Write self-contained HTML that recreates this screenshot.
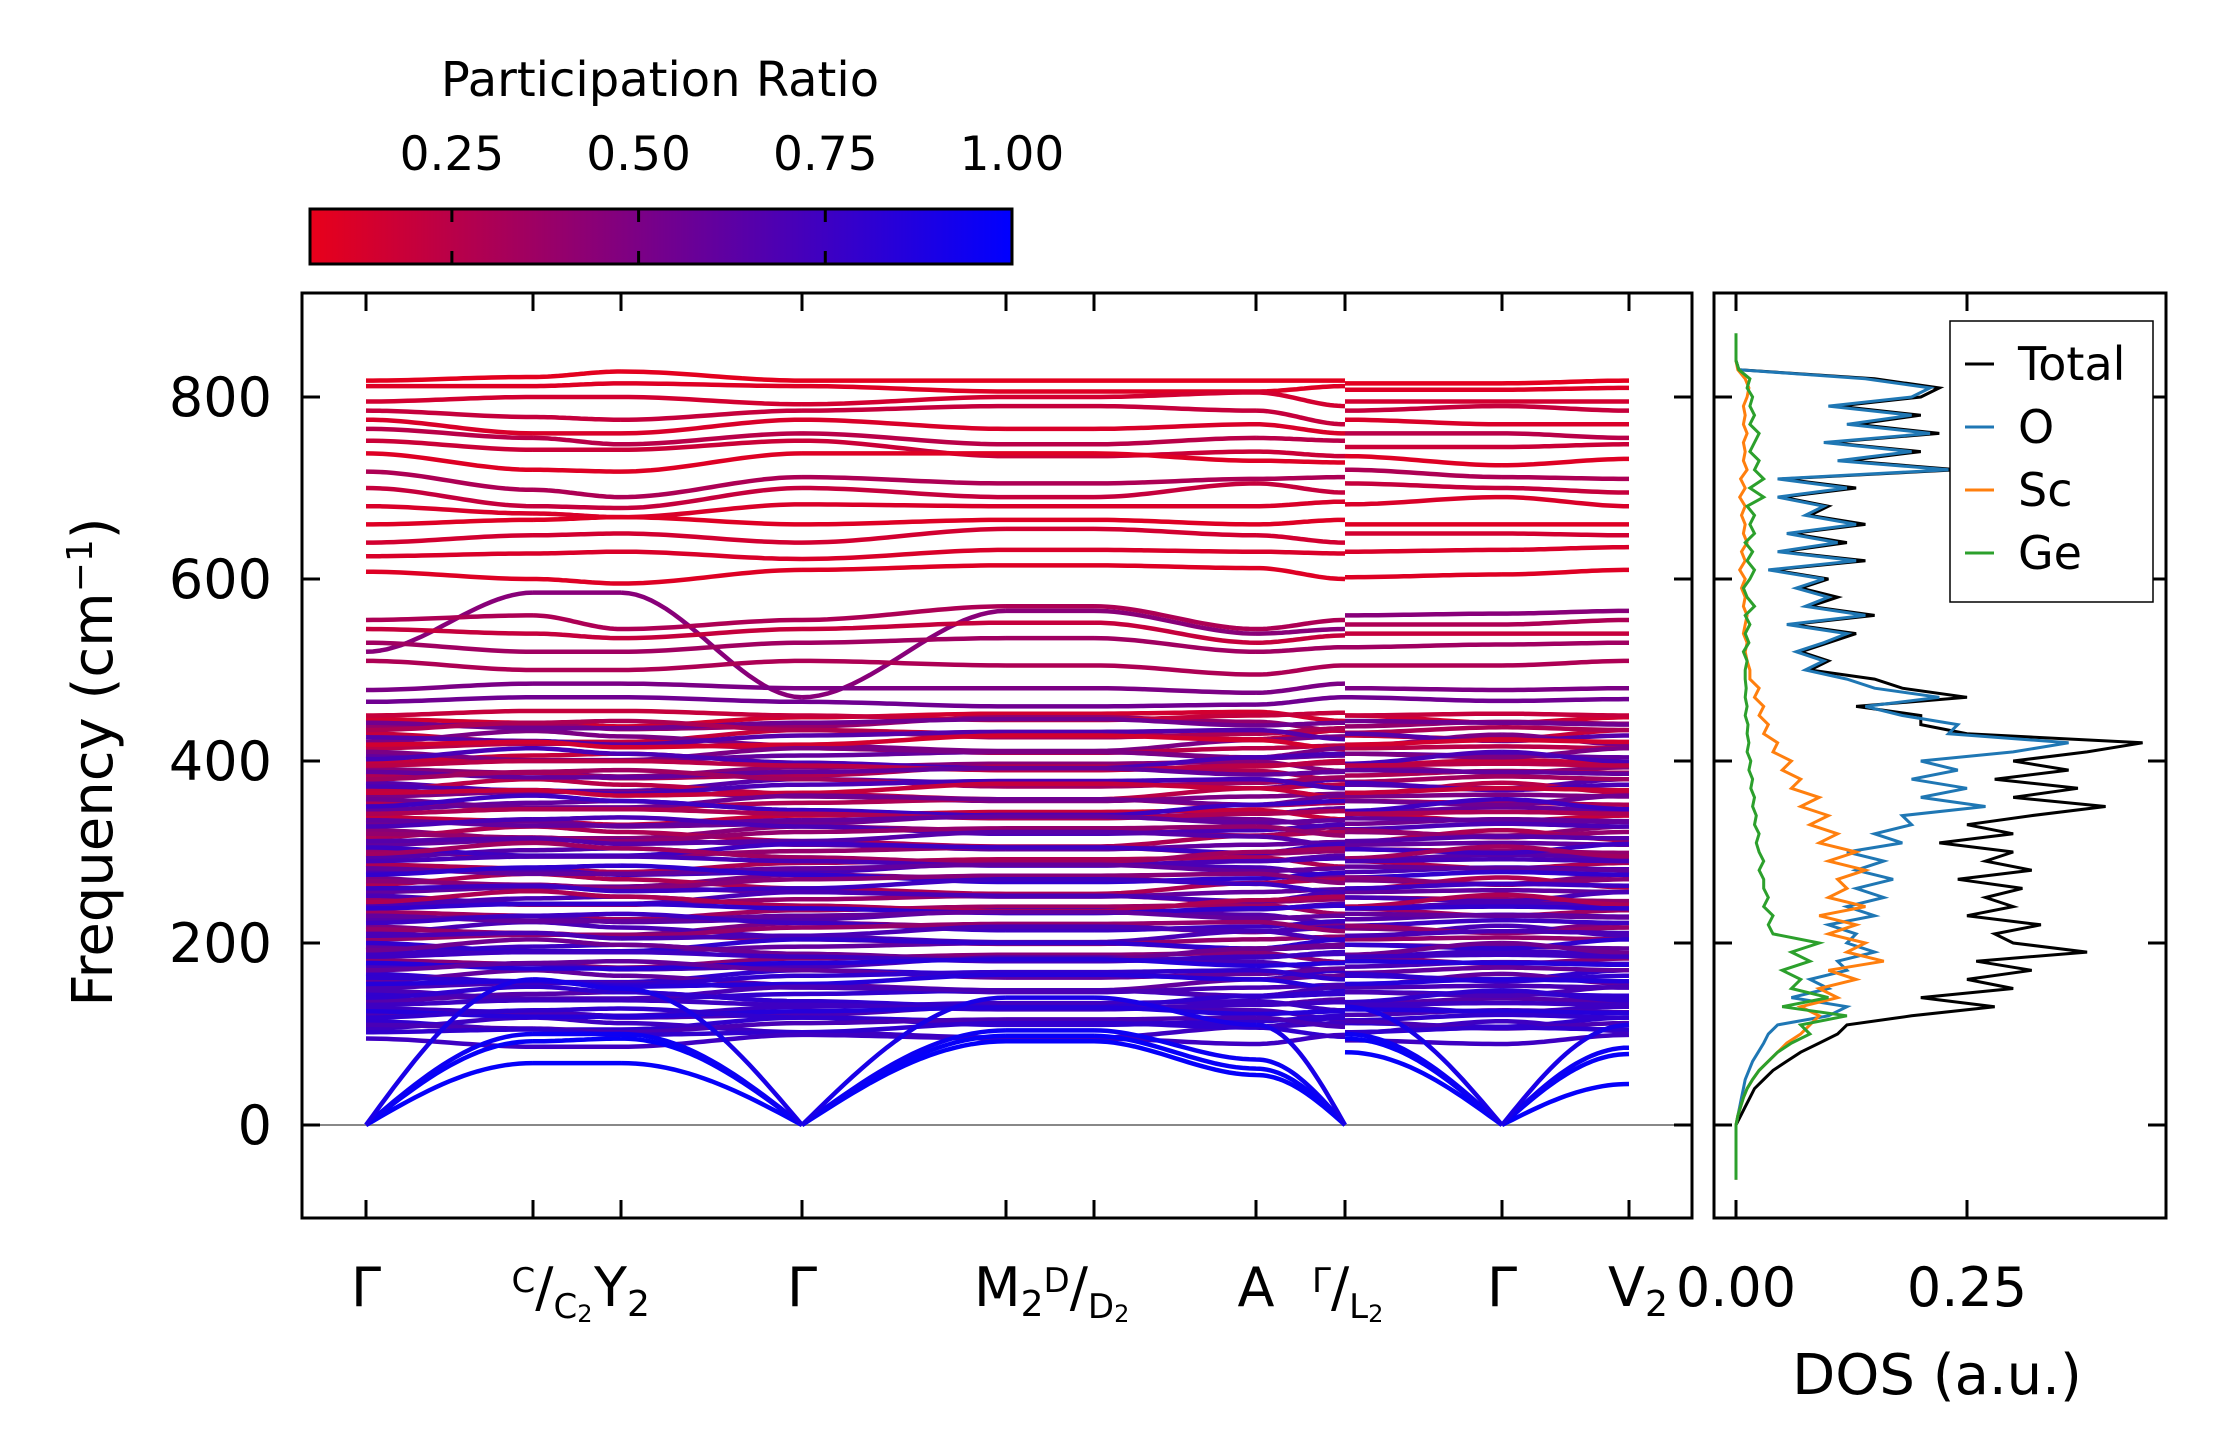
<!DOCTYPE html>
<html><head><meta charset="utf-8">
<style>
body{margin:0;background:#fff;}
svg{display:block;font-family:"DejaVu Sans","Liberation Sans",sans-serif;}
</style></head>
<body>
<svg id="fig" width="2222" height="1455" viewBox="0 0 2222 1455" xmlns="http://www.w3.org/2000/svg">
<defs>
<linearGradient id="cmap" x1="0" x2="1" y1="0" y2="0">
<stop offset="0" stop-color="rgb(232,0,26)"/>
<stop offset="1" stop-color="rgb(0,0,255)"/>
</linearGradient>
<clipPath id="clipMain"><rect x="302" y="293" width="1390" height="925"/></clipPath>
<clipPath id="clipDos"><rect x="1714" y="293" width="452" height="925"/></clipPath>
</defs>
<g id="colorbar">
<text x="660" y="96" font-size="48" text-anchor="middle">Participation Ratio</text>
<rect x="310" y="209" width="702" height="55" fill="url(#cmap)" stroke="#000" stroke-width="3"/>
</g>
<g id="bands" clip-path="url(#clipMain)"></g>
<g id="dos" clip-path="url(#clipDos)"></g>
<g id="axes"></g>
</svg>
<script>
const NS='http://www.w3.org/2000/svg';
// ---------- data ----------
const yTicks=[0,200,400,600,800];
const cbTicks=[0.25,0.50,0.75,1.00];
const cbTickLabels=['0.25','0.50','0.75','1.00'];
const dosTicks=[0.00,0.25];
const dosTickLabels=['0.00','0.25'];
// node order: Γ,C,Y2,Γ,M2,D,A,Γ(left),L2(right),Γ,V2
const acousticBands=[
[0,68,68,0,92,92,55,0,80,0,45],
[0,92,95,0,98,98,62,0,95,0,78],
[0,100,100,0,104,104,72,0,100,0,85],
[0,160,150,0,140,140,110,0,130,0,110]
];
const acousticPR=[0.98,0.97,0.95,0.9];
const upperBands=[
[818,822,828,818,818,818,818,818,815,815,818],
[812,812,815,812,806,806,806,812,808,808,810],
[795,800,800,792,800,800,805,790,795,795,795],
[785,778,775,785,790,790,785,770,785,790,785],
[775,760,760,775,765,765,770,760,775,770,770],
[765,755,748,760,748,748,755,752,760,760,755],
[752,742,742,752,735,735,740,735,745,745,748],
[738,720,718,738,738,738,730,728,735,725,732],
[718,698,690,712,705,705,710,712,720,712,710],
[700,680,678,700,690,690,705,695,705,700,695],
[680,672,668,682,680,680,680,685,682,690,680],
[660,665,668,660,665,665,660,665,660,660,660],
[640,648,650,640,655,655,648,640,650,650,648],
[625,628,630,622,632,632,630,628,630,632,635],
[608,600,595,610,615,615,612,600,602,605,610],
[520,585,585,470,565,565,540,545,560,562,565],
[555,560,545,555,570,570,545,555,550,550,555],
[545,540,535,545,552,552,530,538,540,540,540],
[530,520,520,530,535,535,520,525,525,528,530],
[510,500,500,510,505,505,495,505,505,505,510],
[478,485,485,480,480,480,475,485,480,478,480],
[465,470,470,465,460,460,462,470,470,466,468]
];
const upperPR=[0.08,0.1,0.15,0.2,0.12,0.25,0.18,0.1,0.3,0.2,0.12,0.1,0.15,0.12,0.1,0.45,0.3,0.2,0.35,0.3,0.5,0.55];
const midBase=[450,442,434,426,418,410,402,395,388,380,372,365,358,350,342,335,328,320,312,305,298,290,282,275,268,260,252,245,238,230,222,215,208,200,192,185,178,170,162,155,148,140,132,125,118,110,102,95];
const midPR=[0.2,0.55,0.3,0.65,0.15,0.5,0.7,0.25,0.6,0.35,0.7,0.2,0.55,0.75,0.3,0.6,0.7,0.4,0.65,0.75,0.35,0.7,0.6,0.8,0.45,0.75,0.7,0.3,0.8,0.6,0.75,0.4,0.7,0.8,0.55,0.75,0.85,0.6,0.8,0.85,0.7,0.8,0.75,0.85,0.8,0.7,0.8,0.75];
const midBase2=[446,438,430,421,414,406,398,391,384,376,368,361,354,346,338,331,324,316,308,301,294,286,278,271,264,256,248,241,234,226,218,211,204,196,188,181,174,166,158,151,144,136,128,121,114,106];
const midPR2=[0.15,0.4,0.2,0.5,0.25,0.6,0.2,0.45,0.3,0.65,0.25,0.5,0.3,0.6,0.2,0.55,0.45,0.3,0.6,0.4,0.65,0.3,0.7,0.5,0.3,0.6,0.4,0.7,0.35,0.65,0.5,0.7,0.4,0.6,0.75,0.45,0.7,0.8,0.6,0.7,0.8,0.65,0.75,0.7,0.8,0.75];
const wiggles=[
[0,5,5,0,-5,-5,0,3,0,2,0],
[0,-6,-6,0,4,4,-3,0,2,0,-2],
[0,8,10,0,-8,-8,-4,2,-3,3,0],
[0,-4,-8,2,6,6,8,-2,4,-4,2],
[0,3,-3,0,10,10,5,-5,0,5,3],
[0,-9,-9,4,0,0,-6,4,-2,-6,4],
[0,12,6,-4,-10,-10,2,6,-5,8,-3]
];
// DOS sampled every 10 cm-1 starting at 0 cm-1
const dosTotal=[0,0.005,0.01,0.015,0.02,0.03,0.04,0.055,0.07,0.09,0.11,0.12,0.19,0.28,0.2,0.3,0.25,0.32,0.26,0.38,0.3,0.28,0.33,0.25,0.3,0.27,0.31,0.24,0.32,0.27,0.3,0.22,0.3,0.25,0.32,0.4,0.3,0.37,0.28,0.36,0.3,0.38,0.44,0.25,0.2,0.2,0.13,0.25,0.18,0.15,0.08,0.1,0.07,0.1,0.13,0.06,0.15,0.08,0.11,0.07,0.1,0.04,0.14,0.05,0.12,0.06,0.14,0.08,0.1,0.05,0.13,0.05,0.24,0.12,0.2,0.1,0.22,0.13,0.2,0.11,0.2,0.22,0.15,0.003,0];
const dosO=[0,0.002,0.004,0.006,0.008,0.01,0.014,0.018,0.024,0.03,0.035,0.045,0.1,0.12,0.06,0.1,0.08,0.12,0.11,0.15,0.12,0.13,0.1,0.15,0.12,0.16,0.13,0.17,0.13,0.16,0.12,0.18,0.15,0.19,0.18,0.27,0.2,0.25,0.19,0.24,0.2,0.3,0.36,0.23,0.24,0.18,0.14,0.22,0.15,0.12,0.075,0.095,0.065,0.095,0.12,0.055,0.14,0.075,0.1,0.065,0.095,0.035,0.13,0.045,0.11,0.055,0.13,0.075,0.095,0.045,0.12,0.045,0.23,0.11,0.19,0.095,0.21,0.12,0.19,0.1,0.19,0.21,0.14,0.003,0];
const dosSc=[0,0.002,0.005,0.008,0.012,0.018,0.025,0.035,0.045,0.055,0.07,0.08,0.09,0.07,0.11,0.09,0.13,0.1,0.16,0.12,0.14,0.1,0.13,0.09,0.14,0.1,0.12,0.11,0.14,0.1,0.13,0.09,0.11,0.08,0.1,0.07,0.09,0.06,0.07,0.05,0.06,0.04,0.045,0.03,0.035,0.025,0.03,0.02,0.025,0.015,0.015,0.012,0.01,0.012,0.008,0.01,0.012,0.008,0.01,0.006,0.01,0.004,0.01,0.006,0.012,0.008,0.01,0.006,0.01,0.004,0.01,0.005,0.012,0.008,0.01,0.008,0.012,0.008,0.01,0.008,0.012,0.014,0.01,0.002,0];
const dosGe=[0,0.002,0.005,0.008,0.012,0.018,0.025,0.035,0.045,0.06,0.08,0.07,0.12,0.05,0.1,0.06,0.07,0.05,0.08,0.06,0.09,0.04,0.035,0.04,0.03,0.035,0.03,0.03,0.025,0.03,0.025,0.022,0.025,0.02,0.022,0.018,0.02,0.016,0.018,0.014,0.016,0.012,0.014,0.012,0.013,0.01,0.012,0.01,0.011,0.01,0.01,0.012,0.008,0.014,0.01,0.015,0.01,0.02,0.012,0.008,0.015,0.02,0.012,0.018,0.01,0.02,0.015,0.02,0.012,0.03,0.015,0.03,0.02,0.025,0.015,0.02,0.025,0.015,0.02,0.015,0.018,0.012,0.015,0.003,0];
// ---------- scales ----------
const nodeX=[366,533,621,802,1006,1094,1256,1345,1345,1502,1629];
const tickX=[366,533,621,802,1006,1094,1256,1345,1502,1629];
function yScale(f){return 1125-f*0.91;}
function xDos(v){return 1736+v*924;}
function xCb(v){return 310+(v-0.06)/0.94*702;}
function prColor(p){const t=Math.max(0,Math.min(1,(p-0.06)/0.94));return `rgb(${Math.round(232*(1-t))},0,${Math.round(26+229*t)})`;}
const gB=document.getElementById('bands');
function drawBand(vals,pr,name){
  let d='';
  for(let s=0;s<vals.length-1;s++){
    if(s===7)continue;
    const x0=nodeX[s],x1=nodeX[s+1],f0=vals[s],f1=vals[s+1];
    for(let i=0;i<=24;i++){
      const t=i/24;let f;
      if(f0===0&&f1!==0)f=f1*Math.sin(t*Math.PI/2);
      else if(f1===0&&f0!==0)f=f0*Math.cos(t*Math.PI/2);
      else{const u=t*t*(3-2*t);f=f0+(f1-f0)*u;}
      d+=(i===0?'M':'L')+(x0+(x1-x0)*t).toFixed(1)+','+yScale(f).toFixed(1);
    }
  }
  const p=document.createElementNS(NS,'path');
  p.setAttribute('d',d);p.setAttribute('fill','none');
  p.setAttribute('stroke',prColor(pr));p.setAttribute('stroke-width','4.5');
  
  
  gB.appendChild(p);
}
const zl=document.createElementNS(NS,'line');
zl.setAttribute('x1',302);zl.setAttribute('x2',1692);zl.setAttribute('y1',yScale(0));zl.setAttribute('y2',yScale(0));
zl.setAttribute('stroke','#888');zl.setAttribute('stroke-width','2');


gB.appendChild(zl);
midBase2.forEach((b,i)=>{drawBand(wiggles[(i+3)%wiggles.length].map(o=>b+o),midPR2[i],'optical-band');});
midBase.forEach((b,i)=>{drawBand(wiggles[i%wiggles.length].map(o=>b+o),midPR[i],'optical-band');});
upperBands.forEach((v,i)=>drawBand(v,upperPR[i],'optical-band'));
acousticBands.forEach((v,i)=>drawBand(v,acousticPR[i],'acoustic-band'));
// DOS
const gD=document.getElementById('dos');
function drawDos(arr,color,name){
  const pts=arr.map((v,i)=>xDos(v).toFixed(1)+','+yScale(i*10).toFixed(1));
  pts.unshift(xDos(0)+','+yScale(-60));
  if(name==='dos-ge')pts.push(xDos(0)+','+yScale(870));
  const p=document.createElementNS(NS,'polyline');
  p.setAttribute('points',pts.join(' '));
  p.setAttribute('fill','none');p.setAttribute('stroke',color);p.setAttribute('stroke-width','3');
  
  
  gD.appendChild(p);
}
drawDos(dosTotal,'#000','dos-total');
drawDos(dosO,'#1f77b4','dos-o');
drawDos(dosSc,'#ff7f0e','dos-sc');
drawDos(dosGe,'#2ca02c','dos-ge');
// axes
const gA=document.getElementById('axes');
function el(tag,attrs,txt){const e=document.createElementNS(NS,tag);for(const k in attrs)e.setAttribute(k,attrs[k]);if(txt!==undefined)e.textContent=txt;gA.appendChild(e);return e;}
let r=el('rect',{x:302,y:293,width:1390,height:925,fill:'none',stroke:'#000','stroke-width':3});


r=el('rect',{x:1714,y:293,width:452,height:925,fill:'none',stroke:'#000','stroke-width':3});


yTicks.forEach(v=>{
  const y=yScale(v);
  el('line',{x1:302,x2:320,y1:y,y2:y,stroke:'#000','stroke-width':3});
  el('line',{x1:1674,x2:1692,y1:y,y2:y,stroke:'#000','stroke-width':3});
  el('line',{x1:1714,x2:1732,y1:y,y2:y,stroke:'#000','stroke-width':3});
  el('line',{x1:2148,x2:2166,y1:y,y2:y,stroke:'#000','stroke-width':3});
  const t=el('text',{x:272,y:y+19,'font-size':54,'text-anchor':'end'},String(v));
  
  
});
tickX.forEach(x=>{
  el('line',{x1:x,x2:x,y1:1200,y2:1218,stroke:'#000','stroke-width':3});
  el('line',{x1:x,x2:x,y1:293,y2:311,stroke:'#000','stroke-width':3});
});
dosTicks.forEach((v,i)=>{
  const x=xDos(v);
  el('line',{x1:x,x2:x,y1:1200,y2:1218,stroke:'#000','stroke-width':3});
  el('line',{x1:x,x2:x,y1:293,y2:311,stroke:'#000','stroke-width':3});
  const t=el('text',{x:x,y:1306,'font-size':54,'text-anchor':'middle'},dosTickLabels[i]);
  
  
});
cbTicks.forEach((v,i)=>{
  const x=xCb(v);
  if(v<1){el('line',{x1:x,x2:x,y1:209,y2:222,stroke:'#000','stroke-width':3});el('line',{x1:x,x2:x,y1:251,y2:264,stroke:'#000','stroke-width':3});}
  const t=el('text',{x:x,y:170,'font-size':47,'text-anchor':'middle'},cbTickLabels[i]);
  
  
});
function rich(x,parts,name,anchor){const t=el('text',{x:x,y:1306,'font-size':54,'text-anchor':anchor||'middle'});
  
  
  parts.forEach(([s,dy,fs])=>{const sp=document.createElementNS(NS,'tspan');sp.setAttribute('dy',dy);if(fs)sp.setAttribute('font-size',fs);sp.textContent=s;t.appendChild(sp);});}
rich(366,[['Γ',0,54]],'k-point-label');
rich(802,[['Γ',0,54]],'k-point-label');
rich(1256,[['A',0,54]],'k-point-label');
rich(1502,[['Γ',0,54]],'k-point-label');
rich(552,[['C',-14,34],['/',14,54],['C',12,34],['2',4,24]],'k-point-label');
rich(594,[['Y',0,54],['2',10,36]],'k-point-label','start');
rich(974,[['M',0,54],['2',10,36],['D',-24,34],['/',14,54],['D',12,34],['2',4,24]],'k-point-label','start');
rich(1312,[['Γ',-14,34],['/',14,54],['L',12,34],['2',4,24]],'k-point-label','start');
rich(1608,[['V',0,54],['2',10,36]],'k-point-label','start');
let t=el('text',{x:1937,y:1394,'font-size':56,'text-anchor':'middle'},'DOS (a.u.)');


t=el('text',{x:0,y:0,'font-size':56,'text-anchor':'middle',transform:'translate(112,762) rotate(-90)'});


t.innerHTML='Frequency (cm<tspan dy="-20" font-size="36">−1</tspan><tspan dy="20">)</tspan>';
// legend
r=el('rect',{x:1950,y:321,width:203,height:281,fill:'#fff',stroke:'#000','stroke-width':1.5});


[['Total','#000'],['O','#1f77b4'],['Sc','#ff7f0e'],['Ge','#2ca02c']].forEach(([s,c],i)=>{
  const y=380+i*63;
  el('line',{x1:1965,x2:1994,y1:y-16,y2:y-16,stroke:c,'stroke-width':3});
  const tx=el('text',{x:2018,y:y,'font-size':46},s);
  
  
});
</script>
</body></html>
